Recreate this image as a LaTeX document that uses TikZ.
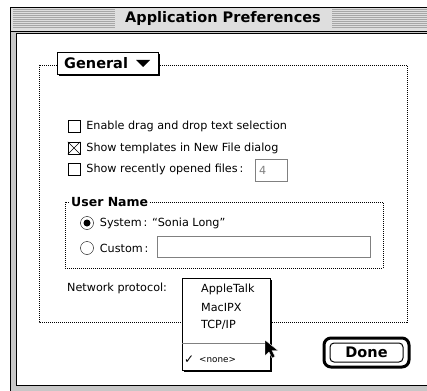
\documentclass[tikz,border=0pt]{standalone}
\usepackage{fontspec}
\setmainfont{DejaVu Sans}
\usepackage{tikz}
\usetikzlibrary{positioning,calc}
\definecolor{frame}{gray}{0.78}
\definecolor{titlebg}{gray}{0.87}
\tikzset{
txt/.style = {anchor=west, inner sep=0pt, font=\fontsize{11.2}{13}\selectfont},
heavy/.style = {inner sep=0pt, font=\fontsize{14.5}{16}\selectfont\bfseries},
chkbox/.style = {draw, fill=white, rectangle, minimum size=12pt, inner sep=0pt},
radio/.style = {draw, fill=white, circle, minimum size=13pt, inner sep=0pt},
field/.style = {draw=gray, fill=white, rectangle, inner sep=0pt},
group/.style = {dash pattern=on 1pt off 1pt, black},
stripe/.style = {gray!70, line width=1pt},
shine/.style = {white, line width=1pt}
}

\begin{document}
\begin{tikzpicture}[x=1pt, y=-1pt]
    \useasboundingbox (0,0) rectangle (427,390);
    \fill[white] (0,0) rectangle (427,390);
    % window frame
    \draw[fill=frame] (10,7) rectangle (440,400);
    \draw[fill=titlebg] (10,7) rectangle (440,31);
    \foreach \y in {10,12,...,28} {
        \draw[stripe] (13,\y) -- (115,\y);
        \draw[stripe] (332,\y) -- (440,\y);
    }
    \node[heavy] (title) at (223,19) {Application Preferences};
    \draw[fill=white] (16,33) rectangle (440,385);

    % general group
    \draw[group] (39,65) rectangle (407,322);
    \fill[black] (59,54) rectangle (160,76);
    \draw[fill=white] (57,52) rectangle (158,74);
    \node[heavy, anchor=west] (general) at (64,63) {General};
    \fill[black] (136,60) -- (150,60) -- (143,67) -- cycle;

    \node[chkbox] (drag) at (74,126) {};
    \node[txt, right=6pt of drag] (dragtxt) {Enable drag and drop text selection};
    \node[chkbox] (tmpl) at (74,148) {};
    \draw (tmpl.north west) -- (tmpl.south east) (tmpl.north east) -- (tmpl.south west);
    \node[txt, right=6pt of tmpl] (tmpltxt) {Show templates in New File dialog};
    \node[chkbox] (recent) at (74,169) {};
    \node[txt, right=6pt of recent] (recenttxt) {Show recently opened files\,:};
    \node[field, minimum width=32pt, minimum height=22pt] (count) at (271,170) {};
    \node[txt, text=gray] (countval) at (259,170) {4};

    % user name group
    \draw[group] (65,202) rectangle (383,268);
    \node[heavy, anchor=west, fill=white, inner sep=1pt, font=\fontsize{12.5}{14}\selectfont\bfseries] (user) at (70,202) {User Name};
    \node[radio] (sys) at (87,223) {};
    \fill (sys) circle (3.5pt);
    \node[txt, right=6pt of sys] (systxt) {System\,: “Sonia Long”};
    \node[radio] (cust) at (87,248) {};
    \node[txt, right=6pt of cust] (custtxt) {Custom\,:};
    \node[field, minimum width=213pt, minimum height=21pt] (custfield) at (263.5,246.5) {};

    % network popup
    \node[txt] (net) at (67,288) {Network protocol:};
    \fill[black] (184,280) rectangle (272,372);
    \draw[fill=white] (182,278) rectangle (270,370);
    \node[txt] (atalk) at (201,289) {AppleTalk};
    \node[txt] (ipx) at (201,307) {MacIPX};
    \node[txt] (tcp) at (201,325) {TCP/IP};
    \draw[gray] (182,343) -- (266,343);
    \node[txt, font=\fontsize{12}{14}\selectfont] (tick) at (184,360) {✓};
    \node[txt, font=\fontsize{8.8}{10}\selectfont] (none) at (199,360) {<none>};
    \draw[fill=black, draw=white, line join=round] (265,340) -- ++(0,16) -- ++(4,-4) -- ++(3,6) -- ++(3,-1.5) -- ++(-3,-6) -- ++(6,0) -- cycle;

    % done button
    \draw[line width=3pt, rounded corners=7pt] (324,338) rectangle (409,367);
    \draw[line width=1pt, rounded corners=4pt] (330,343) rectangle (403,362);
    \node[heavy] (done) at (366.5,352.5) {Done};
\end{tikzpicture}
\end{document}
